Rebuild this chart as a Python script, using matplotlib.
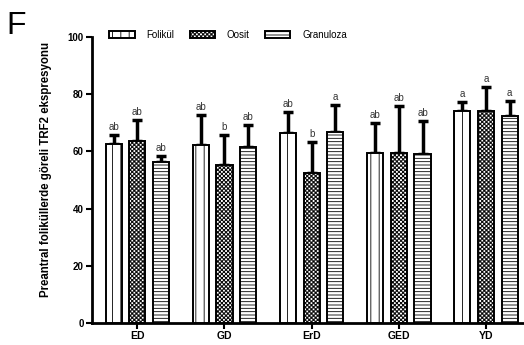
import numpy as np
import matplotlib
matplotlib.use("Agg")
import matplotlib.pyplot as plt
from matplotlib import font_manager as fm
from matplotlib import hatch as mhatch
from matplotlib.path import Path

# data
groups = ["ED", "GD", "ErD", "GED", "YD"]
series = ["Folikül", "Oosit", "Granuloza"]
fol = [62.6, 62.3, 66.3, 59.5, 74.1]
fol_err = [3.1, 10.5, 7.5, 10.5, 3.2]
oos = [63.6, 55.1, 52.3, 59.5, 74.1]
oos_err = [7.4, 10.7, 11.0, 16.4, 8.5]
gra = [56.2, 61.6, 66.9, 59.1, 72.4]
gra_err = [2.1, 7.6, 9.3, 11.6, 5.3]
fol_lbl = ["ab", "ab", "ab", "ab", "a"]
oos_lbl = ["ab", "b", "b", "ab", "a"]
gra_lbl = ["ab", "ab", "a", "ab", "a"]
yticks = [0, 20, 40, 60, 80, 100]

# keep the regular-width Liberation Sans (drop the Narrow files)
fm.fontManager.ttflist = [f for f in fm.fontManager.ttflist if "Narrow" not in f.fname]


# checkerboard hatch (replaces the '*' star pattern)
class CheckerHatch(mhatch.HatchPatternBase):
    def __init__(self, hatch, density):
        self.n = hatch.count("*") * density
        self.num_vertices = 2 * self.n * self.n * 5

    def set_vertices_and_codes(self, vertices, codes):
        s = 1.0 / (2 * self.n)
        a = s * 0.7  # inset so the hatch stroke does not fill the white cells
        m = (s - a) / 2
        sq = np.array([[m, m], [m + a, m], [m + a, m + a], [m, m + a], [m, m]])
        cd = [Path.MOVETO, Path.LINETO, Path.LINETO, Path.LINETO, Path.CLOSEPOLY]
        k = 0
        for j in range(2 * self.n):
            for i in range(self.n):
                x0 = i * 2 * s + (j % 2) * s
                vertices[k:k + 5] = sq + [x0, j * s]
                codes[k:k + 5] = cd
                k += 5


mhatch._hatch_types = [h for h in mhatch._hatch_types if h is not mhatch.Stars]
mhatch._hatch_types.append(CheckerHatch)

plt.rcParams["font.family"] = ["Liberation Sans", "DejaVu Sans"]
plt.rcParams["hatch.linewidth"] = 0.6

fig = plt.figure(figsize=(5.24, 3.45), dpi=100)
ax = fig.add_axes([0.1756, 0.064, 0.83, 0.829])

x = np.arange(len(groups))
off = 0.272
w = 0.185
data = [(fol, fol_err, fol_lbl, "||"), (oos, oos_err, oos_lbl, "****"),
        (gra, gra_err, gra_lbl, "-----")]

for k, (vals, errs, lbls, hp) in enumerate(data):
    xs = x + (k - 1) * off
    ax.bar(xs, vals, w, color="white", edgecolor="black", linewidth=1.4,
           hatch=hp, label=series[k], zorder=3)
    ax.errorbar(xs, vals, yerr=[np.zeros(len(vals)), errs], fmt="none",
                ecolor="black", elinewidth=2.5, capsize=3.8, capthick=2.5, zorder=2)
    for xi, v, e, t in zip(xs, vals, errs, lbls):
        ax.text(xi, v + e + 1.0, t, ha="center", va="bottom", fontsize=7,
                color="#333333")

ax.set_xlim(-0.52, 4.47)
ax.set_ylim(0, 100)
ax.set_yticks(yticks)
ax.set_xticks(x)
ax.set_xticklabels(groups, fontweight="bold", fontsize=7.5)
for t in ax.get_yticklabels():
    t.set_fontweight("bold")
    t.set_fontsize(7)
ax.tick_params(axis="both", width=1.5, length=4, pad=2)
for s in ["top", "right"]:
    ax.spines[s].set_visible(False)
for s in ["left", "bottom"]:
    ax.spines[s].set_linewidth(2)
ax.set_ylabel("Preantral foliküllerde göreli TRF2 ekspresyonu", fontsize=8.3,
              fontweight="bold")
ax.yaxis.set_label_coords(-0.092, 0.535)

ax.legend(ncol=3, frameon=False, loc="upper left", bbox_to_anchor=(0.02, 1.055),
          fontsize=7, handlelength=2.6, handleheight=0.6, columnspacing=1.6,
          handletextpad=1.2)

fig.text(0.013, 0.9, "F", fontsize=23)

fig.savefig("out.png", dpi=100)
